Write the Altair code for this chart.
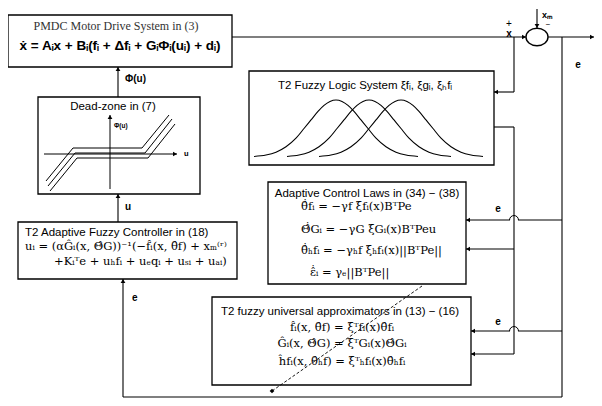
import altair as alt
import pandas as pd

# ---------------- data (page pixel coordinates, y grows downward) ----------------
# boxes
box_names = ["pmdc", "deadzone", "controller", "fls", "laws", "approx"]
box_x0 = [8, 38, 18, 249, 268, 212]
box_x1 = [232, 200, 237, 494, 466, 471]
box_y0 = [15, 97, 222, 71, 182, 297]
box_y1 = [67, 194, 279, 165, 284, 385]

# plain connector segments
seg_x1 = [232, 537, 548, 514, 514, 494, 514, 514, 514, 562, 562, 510, 562, 510, 562, 123, 118, 118]
seg_y1 = [37, 9, 37, 37, 92, 127, 127, 249, 354, 37, 220, 220, 331, 331, 397, 397, 97, 222]
seg_x2 = [526, 537, 594, 514, 494, 514, 514, 466, 471, 562, 518, 466, 518, 471, 123, 123, 118, 118]
seg_y2 = [37, 28, 37, 92, 92, 127, 354, 249, 354, 397, 220, 220, 331, 331, 397, 279, 67, 194]

# dashed diagonal arrow
dash_x = [422, 272]
dash_y = [286, 391]

# arrow heads
head_x = [524, 537, 592, 496, 468, 473, 468, 473, 123, 118, 118, 110, 175, 272]
head_y = [37, 26, 37, 92, 249, 354, 220, 331, 281, 69, 196, 117, 154, 391]
head_shape = ["triangle-right", "triangle-down", "triangle-right", "triangle-left",
              "triangle-left", "triangle-left", "triangle-left", "triangle-left",
              "triangle-up", "triangle-up", "triangle-up", "triangle-up",
              "triangle-right", "diamond"]

# crossing hops
hop_x = [514, 514]
hop_y = [220, 331]

# summing junction
sum_x = [537]
sum_y = [37]

# dead-zone sketch axes
axis_x1 = [110, 44]
axis_y1 = [189, 154]
axis_x2 = [110, 177]
axis_y2 = [115, 154]

# dead-zone characteristic (three parallel lines)
dz_id = ["a"] * 4 + ["b"] * 4 + ["c"] * 4
dz_order = [0, 1, 2, 3] * 3
dz_x = [46, 73, 142, 169, 48, 75, 145, 172, 50, 77, 148, 175]
dz_y = [181, 148, 148, 115, 186, 153, 153, 119, 191, 158, 158, 124]

# T2 membership functions: shape (offset px, relative height)
bell_dx = [-82, -70, -60, -50, -40, -32, -25, -18, -12, -6, 0, 6, 12, 18, 25, 32, 40, 50, 60, 70, 82]
bell_h = [0.01, 0.035, 0.085, 0.18, 0.33, 0.5, 0.65, 0.8, 0.906, 0.975, 1.0,
          0.975, 0.906, 0.8, 0.65, 0.5, 0.33, 0.18, 0.085, 0.035, 0.01]
bell_centers = [336, 369, 401]
bell_base = 157
bell_peak = 57

# text
hat, dot = "\u0302", "\u0307"
serif_txt = ["PMDC Motor Drive System in (3)"]
serif_x = [116]
serif_y = [26]

bold_txt = ["ẋ = Aᵢx + Bᵢ(fᵢ + Δfᵢ + GᵢΦᵢ(uᵢ) + dᵢ)", "Φ(u)", "u", "e", "e", "e", "e",
            "x", "xₘ", "Φ(u)", "u"]
bold_x = [120, 125, 125, 132, 498, 498, 578, 509, 547, 114, 184]
bold_y = [46, 79, 207, 298, 209, 322, 65, 34, 15, 126, 154]
bold_size = [13.5, 10, 10, 10, 10, 10, 10, 10, 9, 6.5, 7.5]
bold_align = ["center", "left", "left", "left", "center", "center", "center", "center",
              "center", "left", "left"]

sans_txt = ["Dead-zone in (7)", "T2 Adaptive Fuzzy Controller in (18)",
            "T2 Fuzzy Logic System ξfᵢ, ξgᵢ, ξₕfᵢ",
            "Adaptive Control Laws in (34) − (38)",
            "T2 fuzzy universal approximators in (13) − (16)", "+", "−"]
sans_x = [113, 25, 278, 367, 340, 509, 548]
sans_y = [107, 233, 86, 194, 312, 24, 25]
sans_align = ["center", "left", "left", "center", "center", "center", "center"]
sans_size = [11.5, 11.5, 11.5, 11.5, 11.5, 10, 8]

eq_txt = [
    f"uᵢ = (αG{hat}ᵢ(x, Θ{hat}G))⁻¹(−f{hat}ᵢ(x, θ{hat}f) + xₘ⁽ʳ⁾",
    f"+Kᵢᵀe + uₕfᵢ + uₑqᵢ + uₛᵢ + uₐᵢ)",
    f"θ{hat}{dot}fᵢ = −γf ξfᵢ(x)BᵀPe",
    f"Θ{hat}{dot}Gᵢ = −γG ξGᵢ(x)BᵀPeu",
    f"θ{hat}{dot}ₕfᵢ = −γₕf ξₕfᵢ(x)||BᵀPe||",
    f"ε{hat}{dot}ᵢ = γₑ||BᵀPe||",
    f"f{hat}ᵢ(x, θ{hat}f) = ξᵀfᵢ(x)θ{hat}fᵢ",
    f"G{hat}ᵢ(x, Θ{hat}G) = ξᵀGᵢ(x)Θ{hat}Gᵢ",
    f"h{hat}fᵢ(x, θ{hat}ₕf) = ξᵀₕfᵢ(x)θ{hat}ₕfᵢ",
]
eq_x = [25, 54, 301, 301, 301, 310, 342, 342, 342]
eq_y = [247, 262, 207, 230, 251, 273, 328, 344, 362]
eq_align = ["left", "left", "left", "left", "left", "left", "center", "center", "center"]

# ---------------- build ----------------
XS = alt.Scale(domain=[8, 594], nice=False, zero=False)
YS = alt.Scale(domain=[8, 398], nice=False, zero=False, reverse=True)


def X(f="x"):
    return alt.X(f"{f}:Q", scale=XS, axis=None)


def Y(f="y"):
    return alt.Y(f"{f}:Q", scale=YS, axis=None)


boxes = pd.DataFrame({"name": box_names, "x": box_x0, "x2": box_x1, "y": box_y0, "y2": box_y1})
segs = pd.DataFrame({"x": seg_x1, "y": seg_y1, "x2": seg_x2, "y2": seg_y2})
axes_df = pd.DataFrame({"x": axis_x1, "y": axis_y1, "x2": axis_x2, "y2": axis_y2})
dash_df = pd.DataFrame({"x": [dash_x[0]], "y": [dash_y[0]], "x2": [dash_x[1]], "y2": [dash_y[1]]})
heads = pd.DataFrame({"x": head_x, "y": head_y, "shape": head_shape})
hops = pd.DataFrame({"x": hop_x, "y": hop_y})
sumdf = pd.DataFrame({"x": sum_x, "y": sum_y})
dzdf = pd.DataFrame({"id": dz_id, "o": dz_order, "x": dz_x, "y": dz_y})

rows = []
for k, c in enumerate(bell_centers):
    for j, (dx, h) in enumerate(zip(bell_dx, bell_h)):
        rows.append({"id": k, "o": j, "x": c + dx, "y": bell_base - bell_peak * h})
belldf = pd.DataFrame(rows)

serifdf = pd.DataFrame({"t": serif_txt, "x": serif_x, "y": serif_y})
bolddf = pd.DataFrame({"t": bold_txt, "x": bold_x, "y": bold_y, "s": bold_size, "a": bold_align})
sansdf = pd.DataFrame({"t": sans_txt, "x": sans_x, "y": sans_y, "s": sans_size, "a": sans_align})
eqdf = pd.DataFrame({"t": eq_txt, "x": eq_x, "y": eq_y, "a": eq_align})

rule_layer = alt.Chart(segs).mark_rule(color="black", strokeWidth=1.1).encode(
    x=X(), y=Y(), x2="x2:Q", y2="y2:Q")
box_layer = alt.Chart(boxes).mark_rect(fill="white", stroke="black", strokeWidth=1.3).encode(
    x=X(), y=Y(), x2="x2:Q", y2="y2:Q")
axes_layer = alt.Chart(axes_df).mark_rule(color="black", strokeWidth=1).encode(
    x=X(), y=Y(), x2="x2:Q", y2="y2:Q")
dz_layer = alt.Chart(dzdf).mark_line(color="black", strokeWidth=1).encode(
    x=X(), y=Y(), detail="id:N", order="o:Q")
bell_layer = alt.Chart(belldf).mark_line(color="black", strokeWidth=1.1, interpolate="monotone").encode(
    x=X(), y=Y(), detail="id:N", order="o:Q")
head_layer = alt.Chart(heads).mark_point(filled=True, color="black", size=22, opacity=1).encode(
    x=X(), y=Y(), shape=alt.Shape("shape:N", scale=None))
hop_layer = alt.Chart(hops).mark_point(
    shape="M-1,0 A1,1 0 0,1 1,0", size=80, filled=False, color="black", strokeWidth=1, opacity=1
).encode(x=X(), y=Y())
sum_layer = alt.Chart(sumdf).mark_point(
    shape="M-1,0 A1,0.8 0 1,1 1,0 A1,0.8 0 1,1 -1,0 Z", size=484, filled=True, fill="white",
    stroke="black", strokeWidth=1.4, opacity=1
).encode(x=X(), y=Y())
dash_layer = alt.Chart(dash_df).mark_rule(color="black", strokeWidth=0.9, strokeDash=[3, 2]).encode(
    x=X(), y=Y(), x2="x2:Q", y2="y2:Q")


def text_layers(df, font, weight="normal", fixed_size=None):
    out = []
    for al in ["left", "center"]:
        kw = dict(font=font, fontWeight=weight, color="black", align=al)
        if fixed_size is not None:
            kw["fontSize"] = fixed_size
        enc = dict(x=X(), y=Y(), text="t:N")
        if fixed_size is None:
            enc["size"] = alt.Size("s:Q", scale=None)
        out.append(alt.Chart(df).transform_filter(alt.datum.a == al).mark_text(**kw).encode(**enc))
    return out


serif_layer = alt.Chart(serifdf).mark_text(font="Liberation Serif", fontSize=12, color="#333").encode(
    x=X(), y=Y(), text="t:N")

layers = [rule_layer, box_layer, axes_layer, dz_layer, bell_layer, hop_layer, sum_layer,
          head_layer, serif_layer]
layers += text_layers(bolddf, "Liberation Sans", "bold")
layers += text_layers(sansdf, "Liberation Sans")
layers += text_layers(eqdf, "DejaVu Serif", fixed_size=11.5)
layers += [dash_layer]

chart = alt.layer(*layers).properties(
    width=586, height=390, padding=0, autosize="none"
).configure_view(stroke=None)

chart.save("out.html", embed_options={"renderer": "svg", "actions": False})
